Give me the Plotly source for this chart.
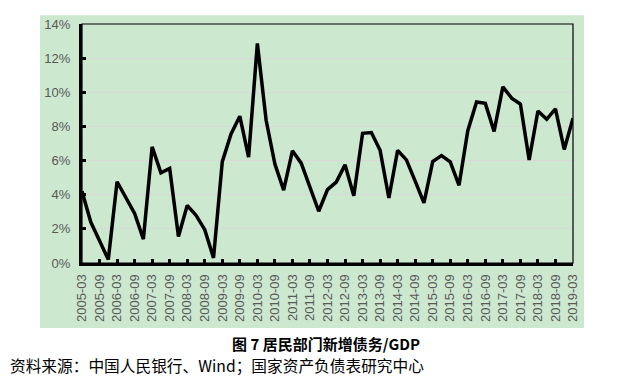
import plotly.graph_objects as go

quarters = []
for y in range(2005, 2020):
    for m in ["03", "06", "09", "12"]:
        quarters.append(f"{y}-{m}")
quarters = quarters[:57]

values = [4.2, 2.4, 1.3, 0.2, 4.76, 3.85, 2.9, 1.4, 6.8, 5.28, 5.54, 1.55, 3.37, 2.8, 1.95, 0.3,
          5.94, 7.56, 8.6, 6.2, 12.86, 8.36, 5.8, 4.27, 6.57, 5.85, 4.42, 3.03, 4.3, 4.74,
          5.75, 3.94, 7.6, 7.64, 6.6, 3.81, 6.6, 6.04, 4.8, 3.52, 5.94, 6.29, 5.92, 4.55,
          7.75, 9.43, 9.35, 7.71, 10.32, 9.66, 9.31, 6.04, 8.9, 8.42, 9.03, 6.65, 8.48]
values = [v / 100 for v in values]

tick_labels = quarters[::2]

title_text = "图 7 居民部门新增债务/GDP"
source_text = "资料来源：中国人民银行、Wind；国家资产负债表研究中心"

OFF = 8  # default body margin of the html page
W, H = 623 - OFF, 387 - OFF
L, R, T, B = 82 - OFF, 573 - OFF, 17 - OFF, 263 - OFF
pw, ph = R - L, B - T

def px(x):
    return (x - OFF - L) / pw

def py(y):
    return (B - (y - OFF)) / ph

green = "#cce8cf"

fig = go.Figure()
fig.add_trace(go.Scatter(x=list(range(len(values))), y=values, mode="lines",
                         line=dict(color="black", width=3.5), hoverinfo="skip"))

fig.update_layout(
    width=W, height=H,
    margin=dict(l=L, r=W - R, t=T, b=H - B, pad=0),
    paper_bgcolor="white",
    plot_bgcolor=green,
    showlegend=False,
    font=dict(family="Liberation Sans, Arial, sans-serif", color="#595959", size=13),
    xaxis=dict(
        range=[0, len(values) - 1],
        tickmode="array",
        tickvals=list(range(0, len(values), 2)),
        ticktext=tick_labels,
        tickangle=-90,
        ticks="inside", ticklen=4, tickwidth=3, tickcolor="black",
        showline=True, linecolor="black", linewidth=3,
        showgrid=False, zeroline=False,
        ticklabelstandoff=3,
        tickfont=dict(size=13, color="#595959"),
    ),
    yaxis=dict(
        range=[0, 0.14],
        dtick=0.02, tick0=0,
        tickformat=".0%",
        ticks="inside", ticklen=4, tickwidth=3, tickcolor="black",
        showline=True, linecolor="black", linewidth=3,
        showgrid=True, gridcolor="#d9d9d9", gridwidth=1,
        zeroline=False,
        ticklabelstandoff=6,
        tickfont=dict(size=13, color="#595959"),
    ),
    shapes=[
        dict(type="rect", xref="paper", yref="paper",
             x0=px(40), x1=px(584), y0=py(330), y1=py(8),
             fillcolor=green, line=dict(width=0), layer="below"),
        dict(type="rect", xref="paper", yref="paper",
             x0=0, x1=1, y0=0, y1=1,
             line=dict(color="black", width=1.2), layer="above"),
    ],
    annotations=[
        dict(text=f"<b>{title_text}</b>", xref="paper", yref="paper",
             x=px(326), y=py(346), xanchor="center", yanchor="middle",
             showarrow=False, font=dict(family="Noto Sans CJK SC", size=15, color="black")),
        dict(text=source_text, xref="paper", yref="paper",
             x=px(8), y=py(368), xanchor="left", yanchor="middle",
             showarrow=False, font=dict(family="Noto Sans CJK SC", size=15.7, color="black")),
    ],
)

fig.write_html("out.html")
